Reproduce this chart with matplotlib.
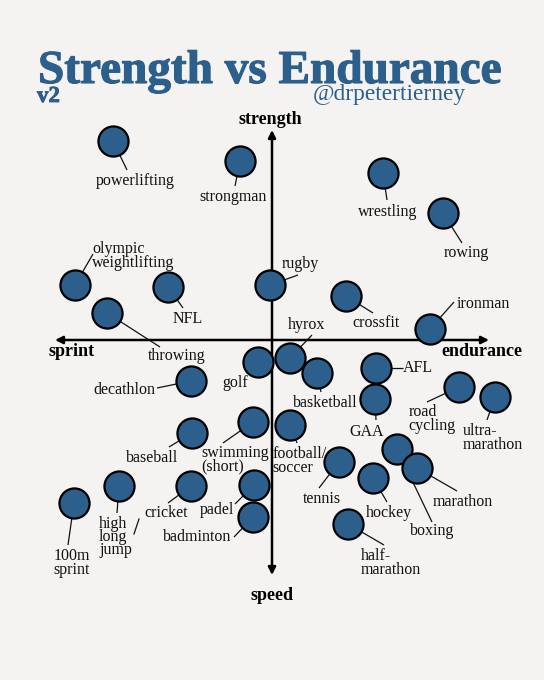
import matplotlib
matplotlib.use("Agg")
import matplotlib.pyplot as plt
import matplotlib.patheffects as pe

# ==========================
# DATA  (x: sprint -> endurance, y: speed -> strength)
# ==========================

sports = [
    "powerlifting", "strongman", "wrestling", "rowing",
    "olympic\nweightlifting", "NFL", "rugby", "throwing",
    "crossfit", "ironman", "hyrox", "golf",
    "basketball", "AFL", "decathlon", "GAA",
    "road\ncycling", "ultra-\nmarathon", "baseball", "swimming\n(short)",
    "football/\nsoccer", "tennis", "hockey", "boxing",
    "marathon", "half-\nmarathon", "100m\nsprint", "high\nlong\njump",
    "cricket", "padel", "badminton",
]

endurance = [
    -15.9, -3.2, 11.1, 17.1,
    -19.7, -10.4, -0.2, -16.5,
    7.4, 15.8, 1.8, -1.4,
    4.5, 10.4, -8.1, 10.3,
    18.7, 22.3, -8.0, -1.9,
    1.8, 6.7, 10.1, 12.5,
    14.5, 7.6, -19.8, -15.3,
    -8.1, -1.8, -1.9,
]

strength = [
    19.9, 17.9, 16.7, 12.7,
    5.5, 5.3, 5.5, 2.7,
    4.4, 1.1, -1.8, -2.2,
    -3.3, -2.8, -4.1, -5.9,
    -4.7, -5.7, -9.3, -8.2,
    -8.5, -12.2, -13.8, -10.9,
    -12.8, -18.4, -16.3, -14.6,
    -14.6, -14.5, -17.7,
]

# ==========================
# LAYOUT (label centres and leader-line ends)
# ==========================

label_x = [
    -13.7, -3.9, 11.6, 19.4,
    -13.85, -8.4, 2.8, -9.5,
    10.4, 21.1, 3.5, -3.7,
    5.3, 14.6, -14.8, 9.5,
    16.0, 22.1, -12.0, -3.7,
    2.75, 5.0, 11.7, 16.0,
    19.1, 11.85, -20.0, -15.65,
    -10.6, -5.5, -7.5,
]
label_y = [
    15.9, 14.3, 12.8, 8.7,
    8.4, 2.1, 7.6, -1.6,
    1.7, 3.6, 1.5, -4.3,
    -6.3, -2.8, -5.0, -9.2,
    -7.9, -9.8, -11.8, -12.0,
    -12.1, -15.9, -17.3, -19.1,
    -16.2, -22.3, -22.3, -19.7,
    -17.3, -17.0, -19.7,
]
leader_x = [
    -14.5, -3.7, 11.5, 19.0,
    -17.9, -8.9, 2.6, -11.2,
    10.1, 18.2, 4.0, -2.5,
    4.9, 13.1, -11.5, 10.4,
    15.5, 21.5, -10.3, -4.9,
    2.5, 4.7, 11.5, 16.0,
    18.5, 11.2, -20.4, -15.5,
    -10.4, -3.7, -3.8,
]
leader_y = [
    17.0, 15.4, 14.0, 9.7,
    8.6, 3.2, 6.5, -0.7,
    2.7, 3.8, 0.5, -3.2,
    -5.2, -2.8, -4.8, -8.0,
    -6.2, -8.0, -10.7, -10.3,
    -10.3, -14.8, -16.2, -18.2,
    -15.1, -20.5, -20.5, -17.3,
    -16.3, -16.4, -19.7,
]
label_align = ["left" if "\n" in s and not s.startswith("100m") else "center"
               for s in sports]

BG = "#f4f3f1"
BLUE = "#2c5f8b"
INK = "#111111"
SERIF = ["Liberation Serif", "DejaVu Serif"]

# ==========================
# FIGURE
# ==========================

fig = plt.figure(figsize=(5.44, 6.80), dpi=100, facecolor=BG)
ax = fig.add_axes([0, 0, 1, 1])
ax.set_facecolor(BG)
ax.set_xlim(-27.2, 27.2)
ax.set_ylim(-34, 34)
ax.axis("off")

# axes arrows
ax.annotate("", xy=(21.7, 0), xytext=(-21.7, 0),
            arrowprops=dict(arrowstyle="<|-|>", lw=1.8, color="black",
                            mutation_scale=11, shrinkA=0, shrinkB=0),
            zorder=1)
ax.annotate("", xy=(0, 21.0), xytext=(0, -23.5),
            arrowprops=dict(arrowstyle="<|-|>", lw=1.8, color="black",
                            mutation_scale=11, shrinkA=0, shrinkB=0),
            zorder=1)

ax.text(-0.2, 22.0, "strength", ha="center", va="center", fontsize=13,
        fontweight="bold", family=SERIF)
ax.text(0, -25.6, "speed", ha="center", va="center", fontsize=13,
        fontweight="bold", family=SERIF)
ax.text(-20.0, -1.2, "sprint", ha="center", va="center", fontsize=13,
        fontweight="bold", family=SERIF)
ax.text(21.0, -1.2, "endurance", ha="center", va="center", fontsize=13,
        fontweight="bold", family=SERIF)

# leader lines (drawn to centre, circles cover the inner part)
for x, y, ex, ey in zip(endurance, strength, leader_x, leader_y):
    ax.plot([ex, x], [ey, y], color=INK, lw=0.9, zorder=2,
            solid_capstyle="butt")

# slash between "high" and "long"
ax.plot([-13.3, -13.8], [-17.9, -19.4], color=INK, lw=0.9, zorder=2)

# circles
ax.scatter(endurance, strength, s=470, color=BLUE, edgecolor="black",
           linewidth=1.6, zorder=4)

# labels
for name, lx, ly, al in zip(sports, label_x, label_y, label_align):
    ax.text(lx, ly, name, ha="center", va="center", multialignment=al,
            fontsize=11.5, family=SERIF, linespacing=0.78, color=INK,
            zorder=3)

# ==========================
# TITLE
# ==========================

fig.text(38 / 544, 1 - 83 / 680, "Strength vs Endurance", ha="left",
         va="baseline", fontsize=34, fontweight="bold", color=BLUE,
         family=SERIF,
         path_effects=[pe.withStroke(linewidth=0.8, foreground=BLUE)])
fig.text(37 / 544, 1 - 102 / 680, "v2", ha="left", va="baseline",
         fontsize=16.5, fontweight="bold", color=BLUE, family=SERIF,
         path_effects=[pe.withStroke(linewidth=0.6, foreground=BLUE)])
fig.text(313 / 544, 1 - 100 / 680, "@drpetertierney", ha="left",
         va="baseline", fontsize=16.8, color=BLUE, family=SERIF)

plt.savefig("out.png", dpi=100, facecolor=BG)
